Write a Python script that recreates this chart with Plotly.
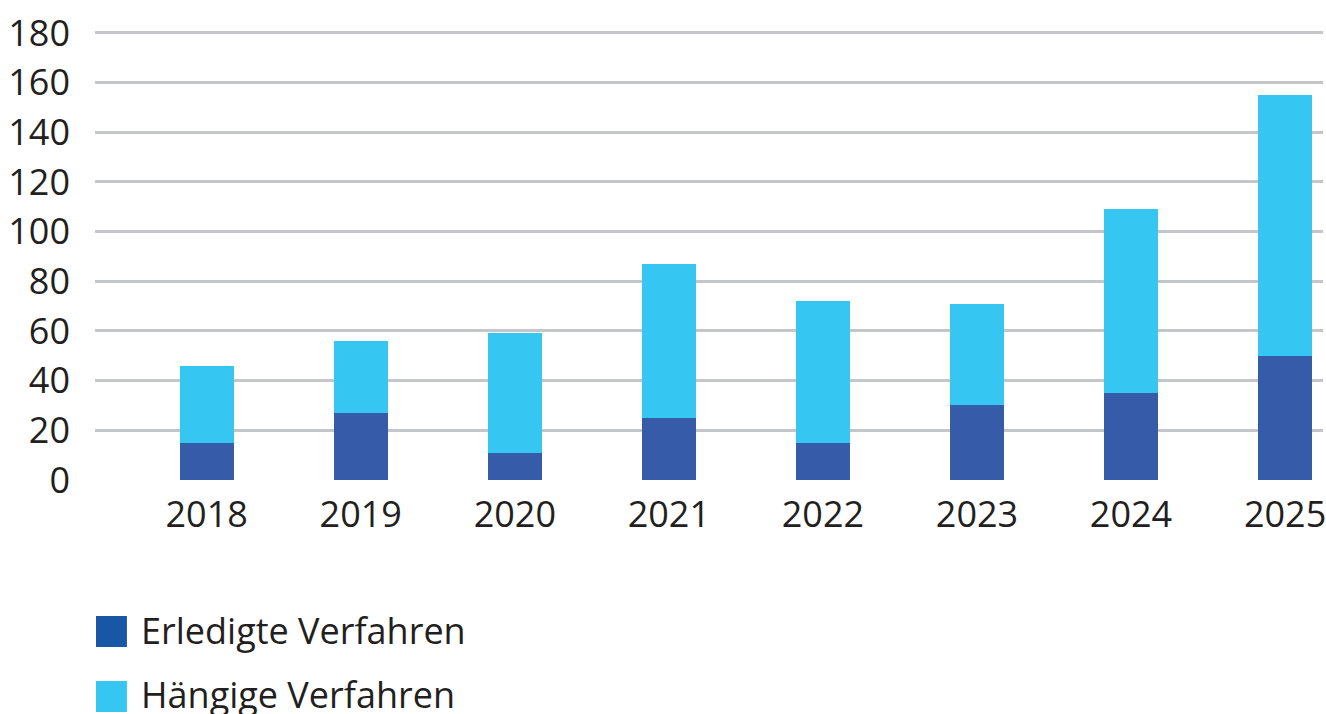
import plotly.graph_objects as go

years = ["2018", "2019", "2020", "2021", "2022", "2023", "2024", "2025"]
erledigt = [15, 27, 11, 25, 15, 30, 35, 50]
total = [46, 56, 59, 87, 72, 71, 109, 155]
haengig = [t - e for t, e in zip(total, erledigt)]
series_names = ["Erledigte Verfahren", "Hängige Verfahren"]

W, H = 1326, 714
L, R, T, B = 95, 0, 28, 234
PW, PH = W - L - R, H - T - B

def px_x(px):
    return (px - L) / PW

def px_y(py):
    return (H - B - py) / PH

FONT = "Open Sans"
FS = 36
TXT = "#231F20"
C_DARK = "#365BA8"
C_LIGHT = "#36C6F2"
C_LEG_DARK = "#1856A6"

fig = go.Figure()
fig.add_trace(go.Bar(x=years, y=erledigt, name=series_names[0], marker_color=C_DARK,
                     marker_line_width=0, width=0.35))
fig.add_trace(go.Bar(x=years, y=haengig, name=series_names[1], marker_color=C_LIGHT,
                     marker_line_width=0, width=0.35))

fig.update_layout(
    width=W, height=H, barmode="stack", showlegend=False,
    margin=dict(l=L, r=R, t=T, b=B, pad=0),
    plot_bgcolor="white", paper_bgcolor="white",
    font=dict(family=FONT, size=FS, color=TXT),
    xaxis=dict(type="category", range=[-0.725, 7.246], showgrid=False, zeroline=False,
               showline=False, ticks="", ticklabelstandoff=10,
               tickfont=dict(family=FONT, size=FS, color=TXT)),
    yaxis=dict(range=[0, 182], tickvals=[0, 20, 40, 60, 80, 100, 120, 140, 160, 180],
               showgrid=True, gridcolor="#C5C6CA", gridwidth=3,
               zeroline=False, showline=False, ticks="", ticklabelstandoff=24,
               tickfont=dict(family=FONT, size=FS, color=TXT)),
)

legend_rows = [(series_names[0], C_LEG_DARK, 616, 647, 630),
               (series_names[1], C_LIGHT, 681, 712, 694)]
for name, col, y0, y1, yc in legend_rows:
    fig.add_shape(type="rect", xref="paper", yref="paper",
                  x0=px_x(96), x1=px_x(127), y0=px_y(y1), y1=px_y(y0),
                  fillcolor=col, line_width=0)
    fig.add_annotation(text=name, xref="paper", yref="paper", x=px_x(139), y=px_y(yc),
                       xanchor="left", yanchor="middle", showarrow=False,
                       font=dict(family=FONT, size=FS, color=TXT))

fig.write_html("out.html", config={"displayModeBar": False},
               post_script="document.body.style.margin='0';")
